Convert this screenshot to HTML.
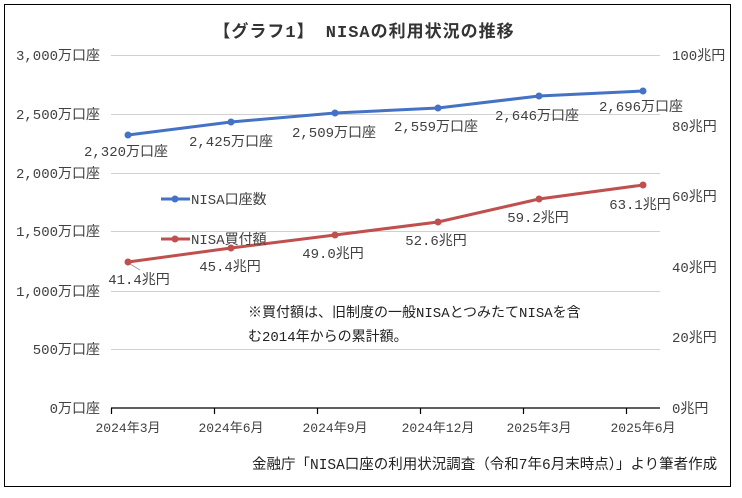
<!DOCTYPE html>
<html><head><meta charset="utf-8"><style>
html,body{margin:0;padding:0;background:#fff;}
svg{display:block;}
text{font-family:"Liberation Mono","Noto Sans CJK JP",monospace;font-size:14px;fill:#404040;}
</style></head><body>
<svg width="742" height="498" viewBox="0 0 742 498">
<rect x="4.5" y="4.5" width="726" height="482" fill="#fff" stroke="#000" stroke-width="1"/>
<text x="364" y="37" text-anchor="middle" style="font-size:17px;letter-spacing:1px;font-weight:bold;fill:#333">【グラフ1】 NISAの利用状況の推移</text>
<g stroke="#d0d0d0" stroke-width="1">
<line x1="111" y1="55.5" x2="660" y2="55.5"/><line x1="111" y1="114.5" x2="660" y2="114.5"/>
<line x1="111" y1="173.5" x2="660" y2="173.5"/><line x1="111" y1="231.5" x2="660" y2="231.5"/>
<line x1="111" y1="291.5" x2="660" y2="291.5"/><line x1="111" y1="349.5" x2="660" y2="349.5"/>
</g>
<g stroke="#000" stroke-width="1.2">
<line x1="111" y1="408" x2="660" y2="408"/>
<line x1="111.5" y1="408" x2="111.5" y2="414"/><line x1="214.5" y1="408" x2="214.5" y2="414"/>
<line x1="317.5" y1="408" x2="317.5" y2="414"/><line x1="420.5" y1="408" x2="420.5" y2="414"/>
<line x1="523.5" y1="408" x2="523.5" y2="414"/><line x1="626.5" y1="408" x2="626.5" y2="414"/>
</g>
<g text-anchor="end">
<text x="100" y="60">3,000万口座</text><text x="100" y="119">2,500万口座</text>
<text x="100" y="178">2,000万口座</text><text x="100" y="236">1,500万口座</text>
<text x="100" y="296">1,000万口座</text><text x="100" y="354">500万口座</text>
<text x="100" y="413">0万口座</text>
</g>
<g>
<text x="672" y="60">100兆円</text><text x="672" y="131">80兆円</text>
<text x="672" y="201">60兆円</text><text x="672" y="272">40兆円</text>
<text x="672" y="342">20兆円</text><text x="672" y="413">0兆円</text>
</g>
<g text-anchor="middle">
<text x="128" y="432" style="font-size:13px">2024年3月</text><text x="231" y="432" style="font-size:13px">2024年6月</text>
<text x="335" y="432" style="font-size:13px">2024年9月</text><text x="438" y="432" style="font-size:13px">2024年12月</text>
<text x="539" y="432" style="font-size:13px">2025年3月</text><text x="643" y="432" style="font-size:13px">2025年6月</text>
</g>
<polyline points="128,135 231,122 335,113 438,108 539,96 643,91" fill="none" stroke="#4472c4" stroke-width="3"/>
<g fill="#4472c4"><circle cx="128" cy="135" r="3.5"/><circle cx="231" cy="122" r="3.5"/><circle cx="335" cy="113" r="3.5"/><circle cx="438" cy="108" r="3.5"/><circle cx="539" cy="96" r="3.5"/><circle cx="643" cy="91" r="3.5"/></g>
<polyline points="128,262 231,248 335,235 438,222 539,199 643,185" fill="none" stroke="#c0504d" stroke-width="3"/>
<g fill="#c0504d"><circle cx="128" cy="262" r="3.5"/><circle cx="231" cy="248" r="3.5"/><circle cx="335" cy="235" r="3.5"/><circle cx="438" cy="222" r="3.5"/><circle cx="539" cy="199" r="3.5"/><circle cx="643" cy="185" r="3.5"/></g>
<line x1="130" y1="264" x2="140" y2="270" stroke="#999" stroke-width="1"/>
<g text-anchor="middle">
<text x="126" y="156">2,320万口座</text><text x="231" y="146">2,425万口座</text>
<text x="334" y="137">2,509万口座</text><text x="436" y="131">2,559万口座</text>
<text x="537" y="120">2,646万口座</text><text x="641" y="111">2,696万口座</text>
<text x="139" y="284">41.4兆円</text><text x="230" y="271">45.4兆円</text>
<text x="333" y="258">49.0兆円</text><text x="436" y="245">52.6兆円</text>
<text x="538" y="222">59.2兆円</text><text x="640" y="209">63.1兆円</text>
</g>
<line x1="161" y1="199" x2="190" y2="199" stroke="#4472c4" stroke-width="3"/><circle cx="175" cy="199" r="3.5" fill="#4472c4"/>
<text x="191" y="204">NISA口座数</text>
<line x1="161" y1="239" x2="190" y2="239" stroke="#c0504d" stroke-width="3"/><circle cx="175" cy="239" r="3.5" fill="#c0504d"/>
<text x="191" y="244">NISA買付額</text>
<text x="248" y="317" style="fill:#222">※買付額は、旧制度の一般NISAとつみたてNISAを含</text>
<text x="248" y="341" style="fill:#222">む2014年からの累計額。</text>
<text x="252" y="469" style="fill:#222;font-size:14.5px">金融庁「NISA口座の利用状況調査（令和7年6月末時点）」より筆者作成</text>
</svg>
</body></html>
